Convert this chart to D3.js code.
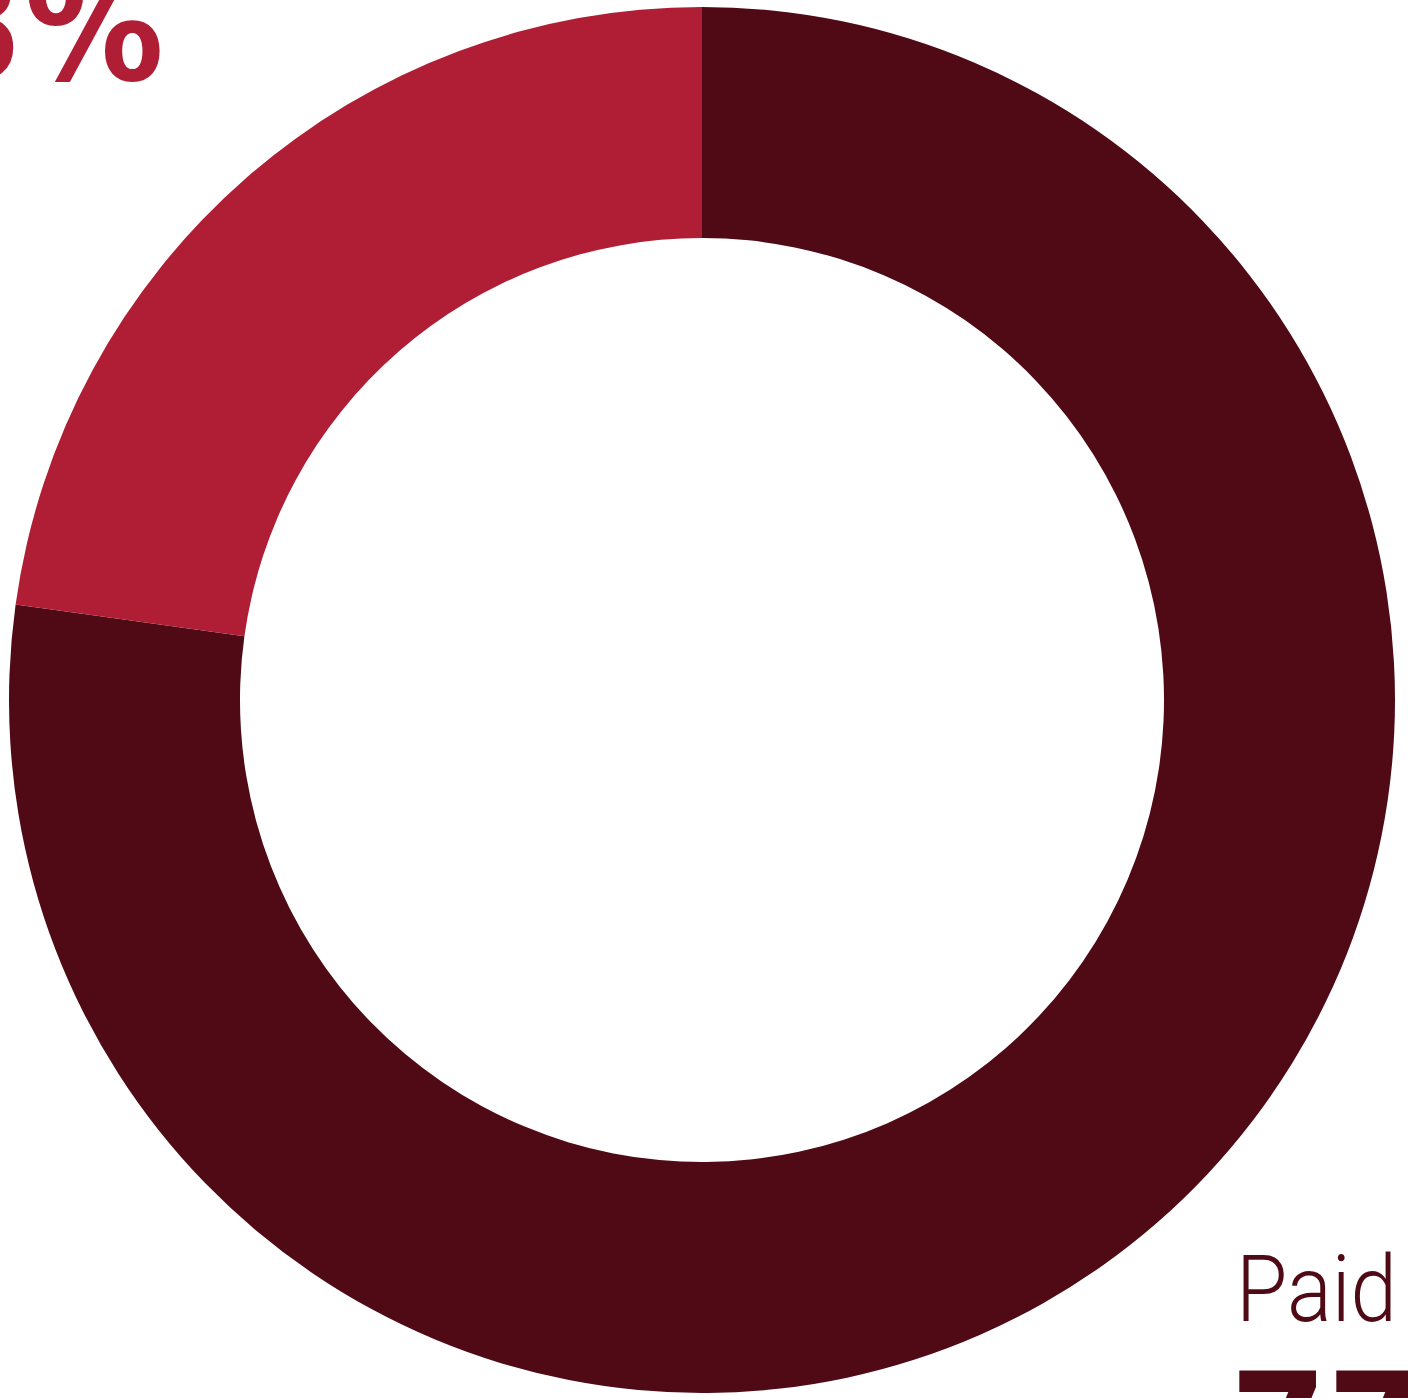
<!DOCTYPE html>
<html>
<head>
<meta charset="utf-8">
<script src="https://cdn.jsdelivr.net/npm/d3@7"></script>
<style>
  html, body { margin: 0; padding: 0; background: #fff; overflow: hidden; }
</style>
</head>
<body>
<script>
// data
var categories = ["Paid", "Unpaid"];
var values = [77.2, 22.8];
var colors = ["#4F0A15", "#AF1E35"];

var w = 1408;
var h = 1398;
var cx = 702, cy = 700;
var outerR = 693;
var innerR = 462;

var svg = d3.select("body")
    .append("svg")
    .attr("width", w)
    .attr("height", h);

var color = d3.scaleOrdinal()
    .domain(categories)
    .range(colors);

var data = categories.map(function(c, i) { return {name: c, value: values[i]}; });

var pie = d3.pie()
    .sort(null)
    .value(function(d) { return d.value; });

var arc = d3.arc()
    .innerRadius(innerR)
    .outerRadius(outerR);

var g = svg.append("g")
    .attr("transform", "translate(" + cx + "," + cy + ")");

g.selectAll("path")
  .data(pie(data))
  .enter()
  .append("path")
  .attr("d", arc)
  .attr("fill", function(d) { return color(d.data.name); });

// labels
var bigFont = "'Liberation Sans Narrow', 'DejaVu Sans Condensed', 'Roboto', sans-serif";
var lightFont = "Roboto, 'Noto Sans', sans-serif";

// Paid (bottom right)
svg.append("text")
  .attr("x", 1236)
  .attr("y", 1321)
  .attr("font-family", lightFont)
  .attr("font-weight", 300)
  .attr("font-size", 92)
  .attr("textLength", 161)
  .attr("lengthAdjust", "spacingAndGlyphs")
  .attr("fill", color("Paid"))
  .text(categories[0]);

svg.append("text")
  .attr("x", 1230)
  .attr("y", 1484)
  .attr("font-family", bigFont)
  .attr("font-weight", 700)
  .attr("font-size", 155)
  .attr("fill", color("Paid"))
  .text(Math.round(values[0]) + "%");

// Unpaid (top left, cropped)
svg.append("text")
  .attr("x", 164)
  .attr("y", 80)
  .attr("text-anchor", "end")
  .attr("font-family", bigFont)
  .attr("font-weight", 700)
  .attr("font-size", 155)
  .attr("fill", color("Unpaid"))
  .text(Math.round(values[1]) + "%");
</script>
</body>
</html>
